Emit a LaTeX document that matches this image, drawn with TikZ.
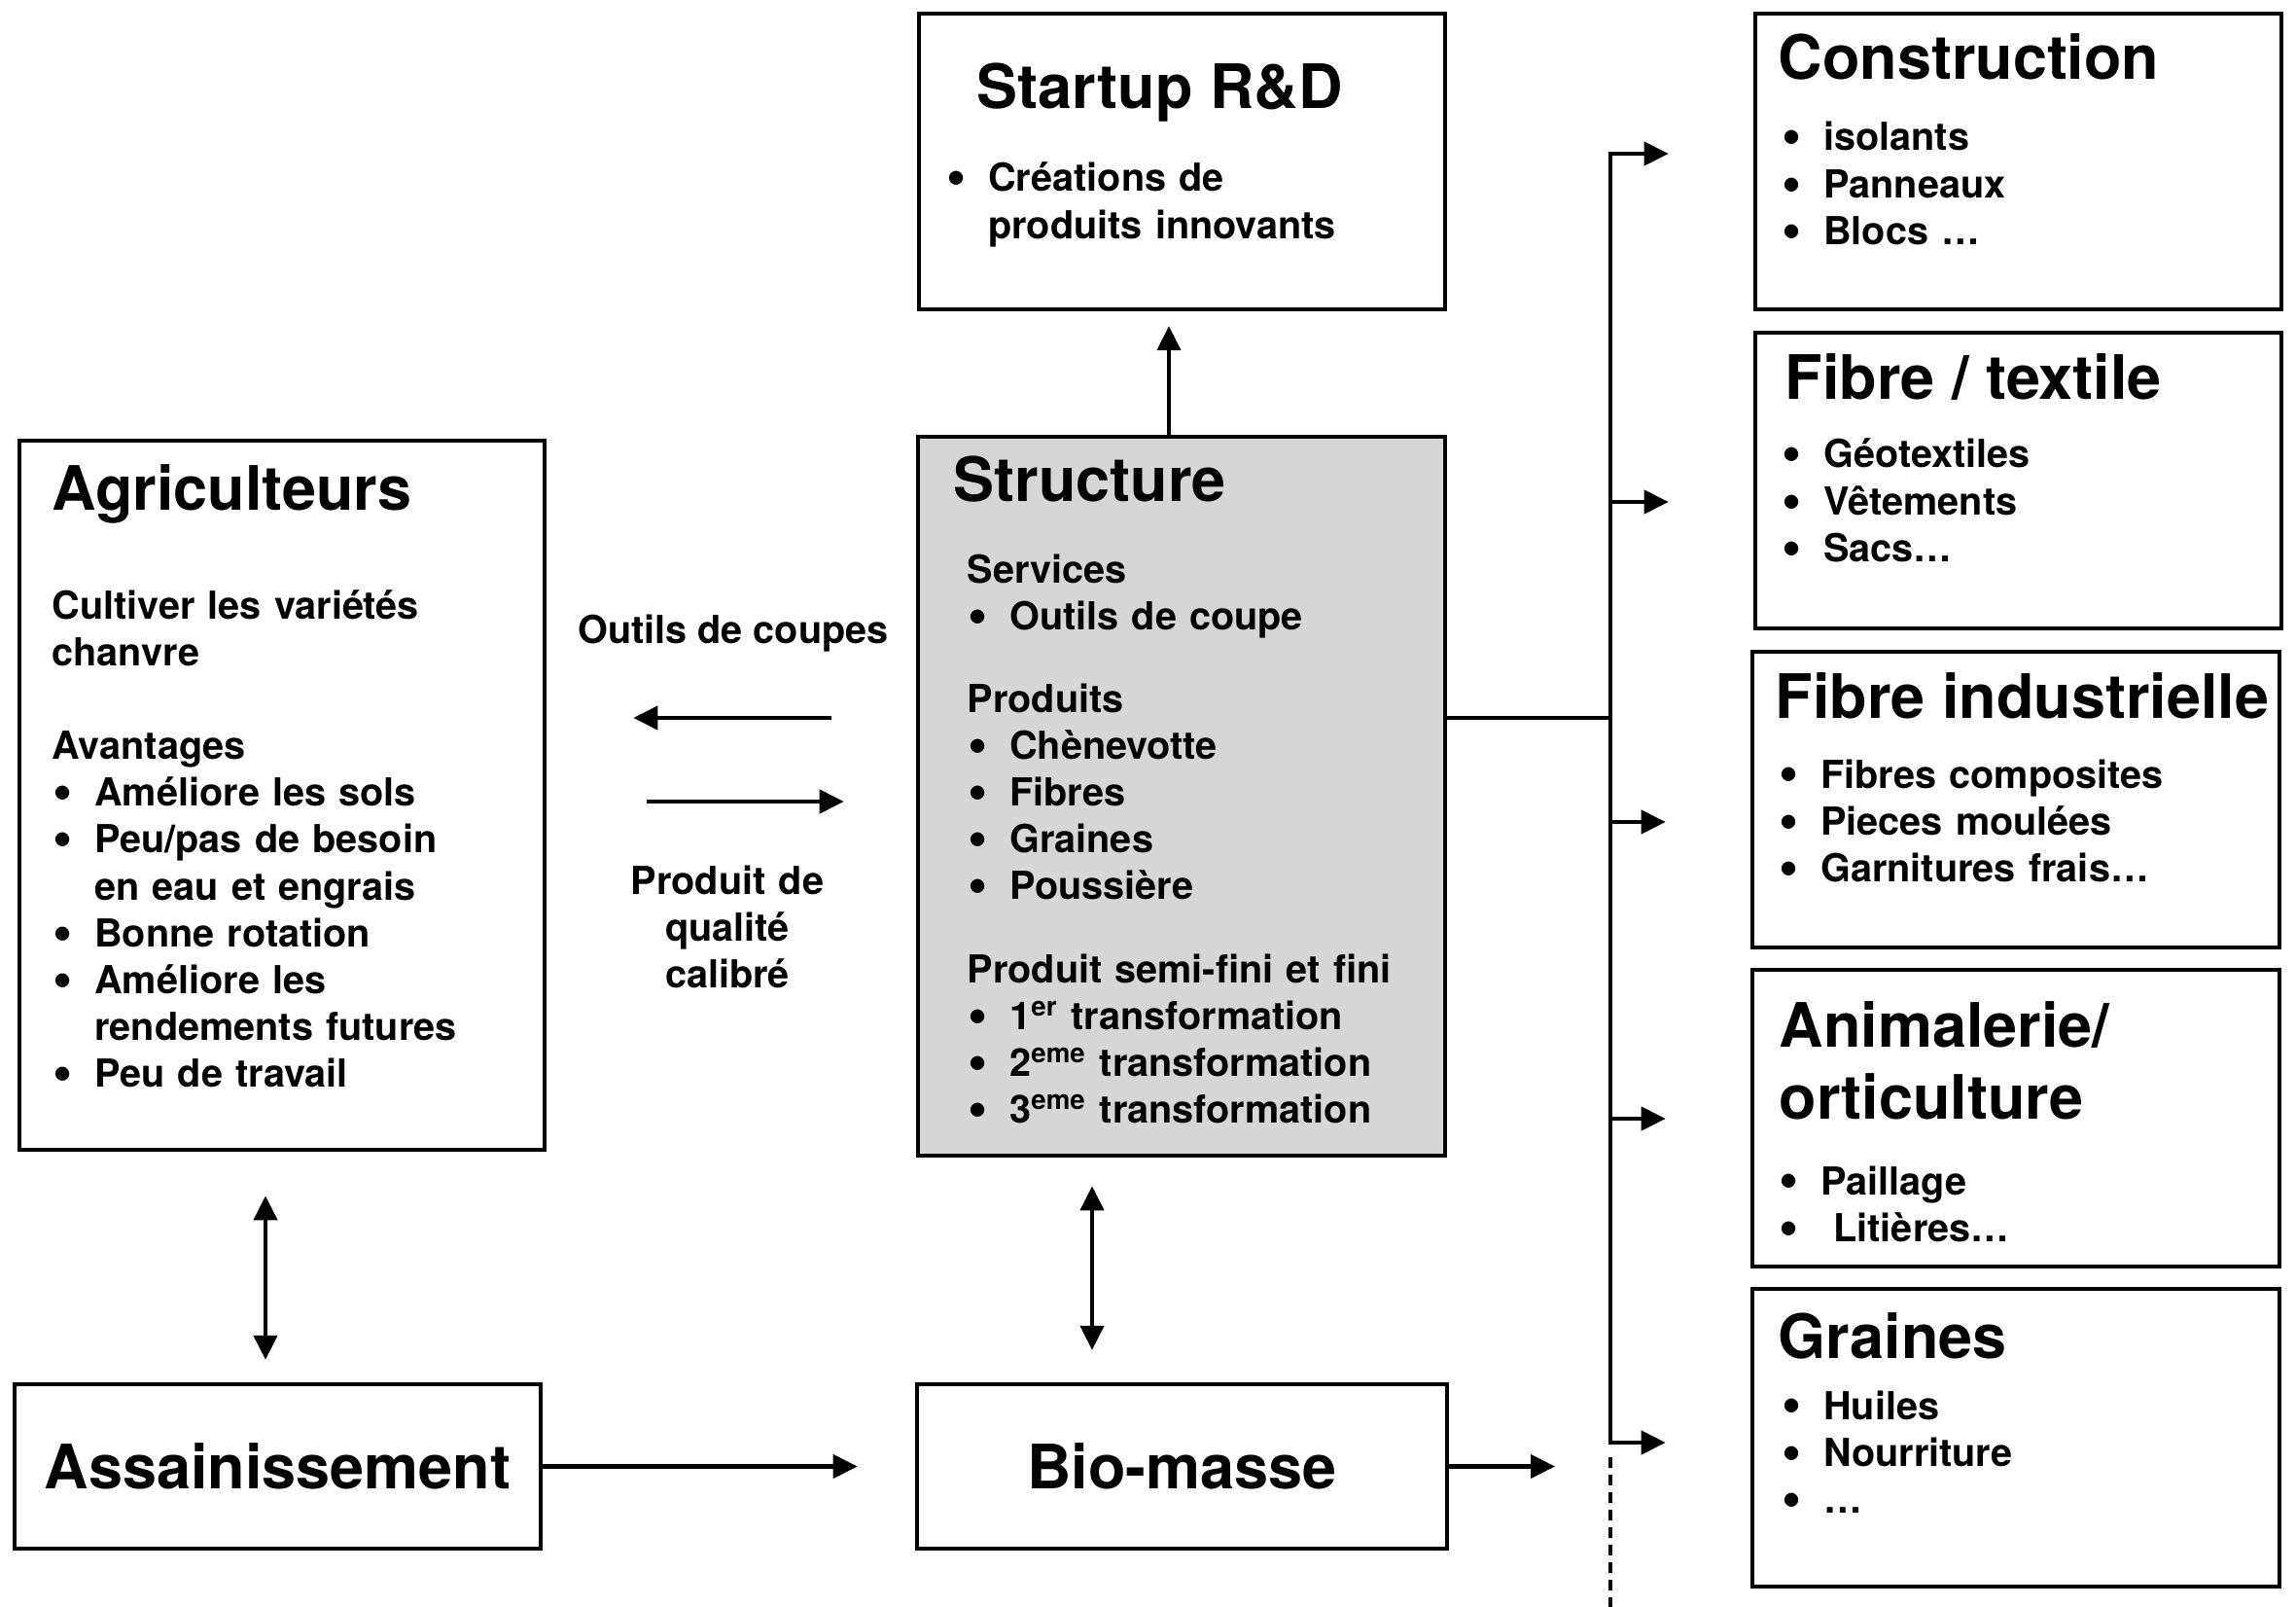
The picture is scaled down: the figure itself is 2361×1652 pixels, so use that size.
\documentclass[tikz,border=0pt]{standalone}
\usepackage{fontspec}
\setmainfont{TeX Gyre Heros}
\usepackage{tikz}
\usetikzlibrary{arrows.meta}

\definecolor{grisfond}{RGB}{214,214,214}
\newcommand{\puce}{\makebox[1.1em][l]{\hspace{0.02em}\raisebox{-0.1em}{\scalebox{1.45}{\textbullet}}}}
\newcommand{\retrait}{\hspace*{1.1em}}

\tikzset{
  boite/.style={draw, line width=0.042cm, inner sep=0pt},
  titre/.style={font=\fontsize{17.9}{21.3}\selectfont\bfseries, inner sep=0pt},
  corps/.style={font=\fontsize{11.27}{13.7}\selectfont\bfseries, inner sep=0pt, text width=5cm, align=left},
  lien/.style={line width=0.042cm},
}

\begin{document}
\begin{tikzpicture}[line join=miter,>={Triangle[length=0.25cm,width=0.24cm]},x=0.01cm,y=-0.01cm]
\useasboundingbox (0,0) rectangle (2361,1652);
% boites
\node[boite, minimum width=5.41cm, minimum height=3.04cm] (startup) at (1215.5,166) {};
\node[boite, fill=grisfond, minimum width=5.42cm, minimum height=7.39cm] (structure) at (1215,818.5) {};
\node[boite, minimum width=5.40cm, minimum height=7.29cm] (agri) at (290,817.5) {};
\node[boite, titre, minimum width=5.41cm, minimum height=1.69cm] (assain) at (285.5,1507.5) {Assainissement};
\node[boite, titre, minimum width=5.45cm, minimum height=1.69cm] (biomasse) at (1215.5,1507.5) {Bio-masse};
\node[boite, minimum width=5.41cm, minimum height=3.04cm] (construction) at (2075.5,166) {};
\node[boite, minimum width=5.41cm, minimum height=3.04cm] (textile) at (2075.5,494) {};
\node[boite, minimum width=5.42cm, minimum height=3.04cm] (industrielle) at (2073,822) {};
\node[boite, minimum width=5.42cm, minimum height=3.05cm] (animalerie) at (2073,1149.5) {};
\node[boite, minimum width=5.42cm, minimum height=3.06cm] (graines) at (2073,1478) {};

% textes
\node[titre, anchor=base west] (startuptitre) at (1004,112) {Startup R\&D};
\node[corps, anchor=base west] (startuptexte) at (972,197) {\puce Créations de\\ \retrait produits innovants};

\node[titre, anchor=base west] (structuretitre) at (980,515) {Structure};
\node[corps, anchor=base west] (structuretexte) at (994,599) {Services\\
\puce Outils de coupe\\[10.5pt]
Produits\\
\puce Chènevotte\\
\puce Fibres\\
\puce Graines\\
\puce Poussière\\[10.5pt]
Produit semi-fini et fini\\
\puce 1\textsuperscript{er} transformation\\
\puce 2\textsuperscript{eme} transformation\\
\puce 3\textsuperscript{eme} transformation};

\node[titre, anchor=base west] (agrititre) at (53,524) {Agriculteurs};
\node[corps, anchor=base west] (agritexte) at (53,636) {Cultiver les variétés\\
chanvre\\[13.7pt]
Avantages\\
\puce Améliore les sols\\
\puce Peu/pas de besoin\\
\retrait en eau et engrais\\
\puce Bonne rotation\\
\puce Améliore les\\
\retrait rendements futures\\
\puce Peu de travail};

\node[titre, anchor=base west] (constructiontitre) at (1828,82) {Construction};
\node[corps, anchor=base west] (constructiontexte) at (1831,155) {\puce isolants\\ \puce Panneaux\\ \puce Blocs …};
\node[titre, anchor=base west] (textiletitre) at (1835,410) {Fibre / textile};
\node[corps, anchor=base west] (textiletexte) at (1831,481) {\puce Géotextiles\\ \puce Vêtements\\ \puce Sacs…};
\node[titre, anchor=base west] (industrielletitre) at (1825,738) {Fibre industrielle};
\node[corps, anchor=base west] (industrielletexte) at (1828,810) {\puce Fibres composites\\ \puce Pieces moulées\\ \puce Garnitures frais…};
\node[titre, text width=5cm, align=left, anchor=base west] (animalerietitre) at (1829,1076) {Animalerie/\\orticulture};
\node[corps, anchor=base west] (animalerietexte) at (1828,1228) {\puce Paillage\\ \puce\ Litières…};
\node[titre, anchor=base west] (grainestitre) at (1828,1396) {Graines};
\node[corps, anchor=base west] (grainestexte) at (1831,1459) {\puce Huiles\\ \puce Nourriture\\ \puce …};

\node[corps, text width=, anchor=base] (outils) at (754,661) {Outils de coupes};
\node[corps, text width=4cm, align=center, anchor=base] (produit) at (748,919) {Produit de\\ qualité\\ calibré};

% liens
\coordinate (tronchaut) at (1656,158);
\coordinate (tronbas) at (1656,1483);
\coordinate (finpointille) at (1656,1652);
\coordinate (sortie) at (1599,1507.5);

\draw[lien,->,shorten >=0.15cm] (structure.north -| 1202,0) -- (startup.south -| 1202,0);
\draw[lien,->,shorten <=0.87cm,shorten >=0.89cm] (structure.west |- 0,738) -- (agri.east |- 0,738);
\draw[lien,->,shorten <=1.03cm,shorten >=0.74cm] (agri.east |- 0,824) -- (structure.west |- 0,824);
\draw[lien,<->,shorten <=0.45cm,shorten >=0.23cm] (agri.south -| 273,0) -- (assain.north -| 273,0);
\draw[lien,<->,shorten <=0.29cm,shorten >=0.33cm] (structure.south -| 1123,0) -- (biomasse.north -| 1123,0);
\draw[lien,->,shorten >=0.59cm] (assain.east) -- (biomasse.west);
\draw[lien,->] (biomasse.east) -- (sortie);
\draw[lien] (structure.east |- 0,738) -- (tronchaut |- 0,738);
\draw[lien,line cap=rect] (tronchaut) -- (tronbas);
\foreach \cible/\y in {construction/158,textile/516,industrielle/845,animalerie/1150,graines/1483}
\draw[lien,->,shorten >=0.87cm] (tronchaut |- 0,\y) -- (\cible.west |- 0,\y);
\draw[lien,dash pattern=on 0.11cm off 0.07cm] ([yshift=-0.15cm]tronbas) -- (finpointille);
\end{tikzpicture}
\end{document}
